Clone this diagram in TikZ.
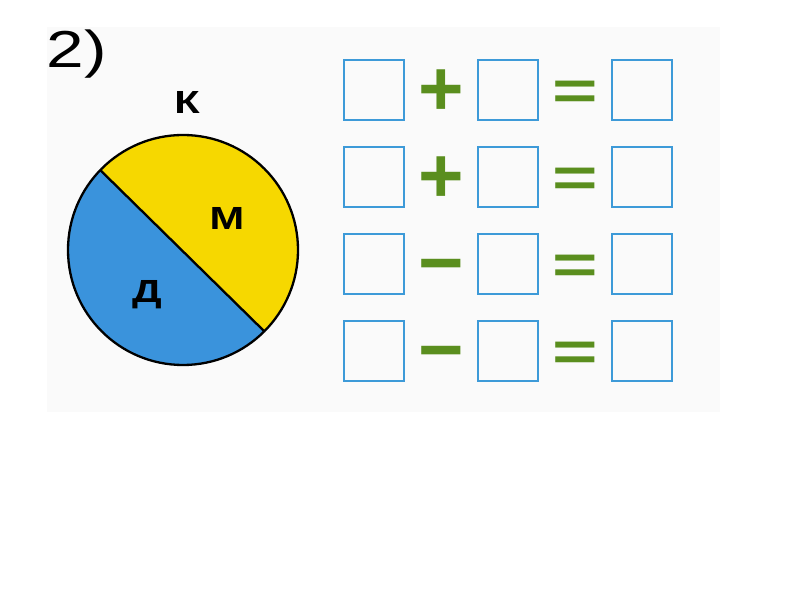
\documentclass[tikz,border=0pt]{standalone}
\usepackage{fontspec}
\setmainfont{Liberation Sans}
\usetikzlibrary{positioning}
\definecolor{boxblue}{HTML}{3D9AD8}
\definecolor{diskblue}{HTML}{3A93DC}
\definecolor{diskyellow}{HTML}{F6D800}
\definecolor{signgreen}{HTML}{5A8E1E}
\definecolor{scanbg}{HTML}{FAFAFA}

\begin{document}
\begin{tikzpicture}[x=1pt, y=1pt, node distance=24.5pt and 71.5pt]
  \tikzstyle{cell} = [rectangle, draw=boxblue, line width=2.5pt, minimum size=60pt, inner sep=0pt]
  \tikzstyle{sign} = [font=\fontsize{78}{78}\selectfont\bfseries, text=signgreen, inner sep=0pt, yshift=-3pt]
  \tikzstyle{eqsign} = [sign, yscale=0.7, transform shape]
  \tikzstyle{letter} = [font=\fontsize{32}{32}\selectfont\bfseries, xscale=1.3, transform shape, inner sep=0pt]

  \useasboundingbox (0,0) rectangle (800,600);
  \fill[scanbg] (47,188) rectangle (720,573);

  % task number
  \node[font=\fontsize{52}{52}\selectfont, xscale=1.3, transform shape, inner sep=0pt] (num) at (77,546) {2)};

  % disk split into two parts
  \coordinate (c) at (183,350);
  \path (c) ++(136:115pt) coordinate (p);
  \path (c) ++(315:115pt) coordinate (q);
  \fill[diskyellow] (c) circle (115pt);
  \fill[diskblue] (p) arc (136:315:115pt) -- cycle;
  \draw[line width=2.3pt] (c) circle (115pt);
  \draw[line width=2.3pt] (p) -- (q);

  \node[letter] (k) at (187,498) {К};
  \node[letter] (m) at (227,382) {М};
  \node[letter] (d) at (147,305) {Д};

  % boxes
  \node[cell] (a1) at (374,510) {};
  \node[cell, right=of a1] (b1) {};
  \node[cell, right=of b1] (r1) {};
  \node[cell, below=of a1] (a2) {};
  \node[cell, right=of a2] (b2) {};
  \node[cell, right=of b2] (r2) {};
  \node[cell, below=of a2] (a3) {};
  \node[cell, right=of a3] (b3) {};
  \node[cell, right=of b3] (r3) {};
  \node[cell, below=of a3] (a4) {};
  \node[cell, right=of a4] (b4) {};
  \node[cell, right=of b4] (r4) {};

  % signs
  \path (a1) -- node[sign] (op1) {+} (b1);
  \path (b1) -- node[eqsign] (eq1) {\vphantom{+}=} (r1);
  \path (a2) -- node[sign] (op2) {+} (b2);
  \path (b2) -- node[eqsign] (eq2) {\vphantom{+}=} (r2);
  \path (a3) -- node[sign] (op3) {\vphantom{+}−} (b3);
  \path (b3) -- node[eqsign] (eq3) {\vphantom{+}=} (r3);
  \path (a4) -- node[sign] (op4) {\vphantom{+}−} (b4);
  \path (b4) -- node[eqsign] (eq4) {\vphantom{+}=} (r4);

\end{tikzpicture}
\end{document}
